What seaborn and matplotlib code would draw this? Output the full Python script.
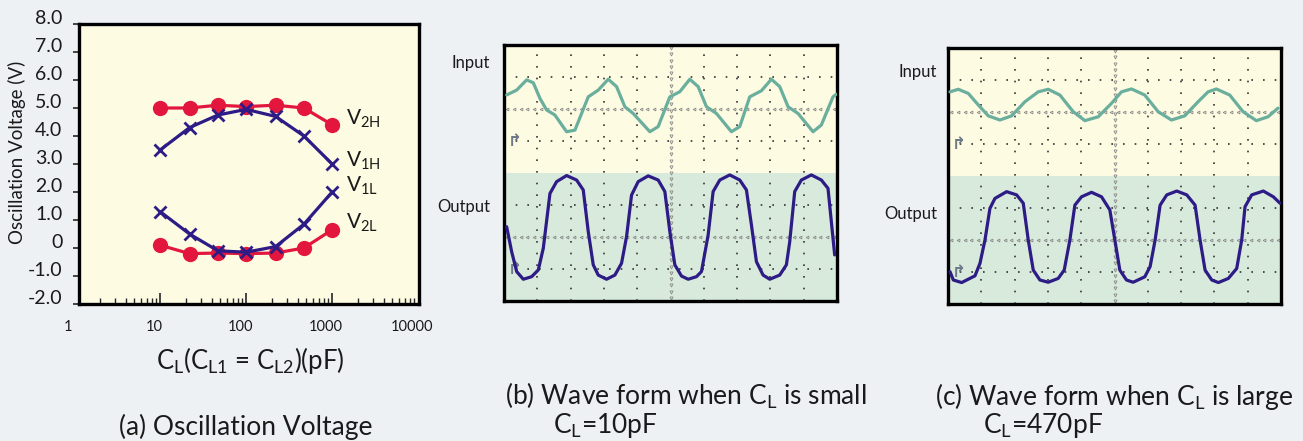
import matplotlib
matplotlib.use("Agg")
import matplotlib.pyplot as plt
import matplotlib.transforms as mtransforms
import numpy as np
import seaborn as sns

# ---- (a) oscillation voltage vs load capacitance ----
cl_pf = [10, 22, 47, 100, 220, 470, 1000]
v2h = [5.0, 5.0, 5.1, 5.05, 5.1, 5.0, 4.4]
v1h = [3.5, 4.3, 4.75, 4.95, 4.7, 4.0, 3.0]
v1l = [1.3, 0.5, -0.1, -0.15, 0.05, 0.85, 2.0]
v2l = [0.1, -0.2, -0.18, -0.2, -0.18, 0.0, 0.65]
y_ticks = [-2, -1, 0, 1, 2, 3, 4, 5, 6, 7, 8]
y_labels = ["-2.0", "-1.0", "0", "1.0", "2.0", "3.0", "4.0", "5.0", "6.0", "7.0", "8.0"]
x_ticks = [1, 10, 100, 1000, 10000]
x_labels = ["1", "10", "100", "1000", "10000"]
series_labels = ["V$_{2H}$", "V$_{1H}$", "V$_{1L}$", "V$_{2L}$"]
series_label_y = [4.6, 3.13, 2.23, 0.89]

# ---- (b) wave form, CL = 10pF (screen divisions) ----
b_in_x = [0.08, 0.38, 0.68, 0.88, 1.08, 1.28, 1.53, 1.88, 2.13, 2.33, 2.53, 2.83, 3.13, 3.38,
          3.63, 3.88, 4.38, 4.63, 4.98, 5.28, 5.58, 5.83, 6.08, 6.38, 6.83, 7.08, 7.38, 7.73,
          8.03, 8.28, 8.53, 8.83, 9.28, 9.53, 9.88, 9.98]
b_in_y = [6.44, 6.59, 6.91, 6.82, 6.33, 5.97, 5.81, 5.29, 5.34, 5.86, 6.38, 6.59, 6.93, 6.70,
          6.07, 5.86, 5.29, 5.45, 6.38, 6.54, 6.93, 6.70, 6.07, 5.86, 5.29, 5.45, 6.38, 6.57,
          6.93, 6.70, 6.07, 5.86, 5.29, 5.50, 6.38, 6.46]
b_out_x = [0.08, 0.23, 0.38, 0.58, 0.83, 1.03, 1.18, 1.38, 1.58, 1.88, 2.18, 2.38, 2.53, 2.68,
           2.83, 3.08, 3.33, 3.53, 3.68, 3.83, 4.03, 4.33, 4.63, 4.83, 4.98, 5.13, 5.33, 5.53,
           5.78, 5.93, 6.13, 6.28, 6.48, 6.78, 7.08, 7.28, 7.43, 7.58, 7.78, 7.98, 8.28, 8.48,
           8.58, 8.73, 8.93, 9.23, 9.53, 9.73, 9.93]
b_out_y = [2.32, 1.54, 0.92, 0.68, 0.76, 0.97, 1.65, 3.36, 3.73, 3.92, 3.78, 3.47, 2.17, 1.13,
           0.81, 0.68, 0.81, 1.18, 2.01, 3.31, 3.73, 3.91, 3.78, 3.42, 2.17, 1.13, 0.78, 0.68,
           0.76, 0.92, 2.06, 3.42, 3.78, 3.94, 3.78, 3.47, 2.38, 1.23, 0.81, 0.68, 0.81, 1.13,
           1.85, 3.42, 3.78, 3.94, 3.78, 3.52, 1.44]

# ---- (c) wave form, CL = 470pF ----
c_in_x = [0.06, 0.31, 0.61, 0.91, 1.21, 1.56, 1.91, 2.31, 2.71, 3.01, 3.36, 3.76, 4.11, 4.51,
          4.91, 5.21, 5.51, 5.91, 6.31, 6.71, 7.11, 7.51, 7.81, 8.06, 8.46, 8.86, 9.26, 9.61, 9.91]
c_in_y = [6.63, 6.71, 6.58, 6.22, 5.88, 5.75, 5.88, 6.32, 6.63, 6.71, 6.53, 6.01, 5.73, 5.85,
          6.27, 6.63, 6.72, 6.53, 6.01, 5.75, 5.88, 6.32, 6.63, 6.72, 6.53, 6.01, 5.73, 5.85, 6.12]
c_out_x = [0.06, 0.16, 0.41, 0.81, 0.96, 1.11, 1.26, 1.41, 1.76, 2.06, 2.26, 2.41, 2.56, 2.76,
           3.01, 3.31, 3.49, 3.66, 3.81, 4.01, 4.31, 4.61, 4.86, 5.01, 5.16, 5.36, 5.56, 5.91,
           6.07, 6.22, 6.37, 6.57, 6.87, 7.17, 7.42, 7.57, 7.72, 7.92, 8.12, 8.42, 8.67, 8.82,
           8.92, 9.12, 9.47, 9.77, 9.97]
c_out_y = [1.01, 0.75, 0.67, 0.88, 1.27, 2.00, 2.99, 3.30, 3.51, 3.41, 3.15, 2.00, 1.06, 0.75,
           0.68, 0.80, 1.06, 2.00, 3.09, 3.35, 3.49, 3.35, 2.94, 2.00, 1.06, 0.75, 0.68, 0.85,
           1.17, 2.00, 3.09, 3.41, 3.53, 3.41, 3.09, 2.00, 1.06, 0.75, 0.67, 0.80, 1.11, 2.00,
           3.04, 3.41, 3.53, 3.35, 3.15]

PAGE = "#edf1f4"
CREAM = "#fdfbe2"
GREEN = "#d8eadc"
RED = "#e3173e"
NAVY = "#2d1b86"
TEAL = "#6aae9d"
INK = "#1a1a1a"

sns.set_style("white")
plt.rcParams["font.family"] = ["Lato", "DejaVu Sans"]
plt.rcParams["mathtext.default"] = "regular"

fig = plt.figure(figsize=(13.03, 4.41), dpi=100, facecolor=PAGE)

# ================= panel (a) =================
ax = fig.add_axes([79 / 1303, 1 - 304 / 441, 340 / 1303, 280 / 441])
ax.set_facecolor(CREAM)
ax.set_xscale("log")
for ys, col, mk in [(v2h, RED, "o"), (v1h, NAVY, "x"), (v1l, NAVY, "x"), (v2l, RED, "o")]:
    if mk == "o":
        sns.lineplot(x=cl_pf, y=ys, ax=ax, color=col, lw=2.3, marker="o", markersize=11,
                     markeredgewidth=0, markerfacecolor=col, markeredgecolor=col, zorder=3)
    else:
        sns.lineplot(x=cl_pf, y=ys, ax=ax, color=col, lw=2.3, marker="x", markersize=9,
                     markeredgewidth=2, markeredgecolor=col, zorder=4)
ax.set_xlim(1.14, 10240)
ax.set_ylim(-2, 8)
ax.set_yticks(y_ticks)
ax.set_yticklabels(y_labels)
ax.tick_params(axis="y", direction="out", length=4, width=1.2, pad=8, labelsize=14,
               labelcolor=INK, left=True)
for lab in ax.get_yticklabels():
    lab.set_verticalalignment("baseline")
ax.set_xticks([10, 100, 1000])
ax.set_xticks([m * d for d in (1, 10, 100, 1000) for m in range(2, 10)], minor=True)
ax.set_xticklabels([])
ax.tick_params(axis="x", which="major", direction="in", length=8, width=1.2, bottom=True)
ax.tick_params(axis="x", which="minor", direction="in", length=4.5, width=1.0, bottom=True)
for sp in ax.spines.values():
    sp.set_linewidth(2.4)
    sp.set_color("black")
xt = mtransforms.offset_copy(ax.get_xaxis_transform(), fig=fig, x=-6, y=-23, units="dots")
for v, lab in zip(x_ticks, x_labels):
    ax.text(v, 0, lab, transform=xt, ha="center", va="center", fontsize=10.5,
            color=INK)
for lab, yy in zip(series_labels, series_label_y):
    ax.text(1455, yy, lab, ha="left", va="center", fontsize=15, color=INK)
ax.set_xlabel("")
ax.set_ylabel("")
fig.text(17 / 1303, 1 - 152 / 441, "Oscillation Voltage (V)", rotation=90, ha="center",
         va="center", fontsize=13.5, color=INK)
fig.text(250 / 1303, 1 - 361 / 441, "C$_L$(C$_{L1}$ = C$_{L2}$)(pF)", ha="center",
         va="center", fontsize=18.5, color=INK)
fig.text(246 / 1303, 1 - 427 / 441, "(a) Oscillation Voltage", ha="center", va="center",
         fontsize=19, color=INK)


# ================= scope panels =================
def scope(rect, in_x, in_y, out_x, out_y, in_lab_y, out_lab_y, lab_x):
    a = fig.add_axes(rect)
    a.set_xlim(0, 10)
    a.set_ylim(0, 8)
    a.axhspan(4, 8, color=CREAM, zorder=0, lw=0)
    a.axhspan(0, 4, color=GREEN, zorder=0, lw=0)
    for gx in [1, 2, 3, 4, 6, 7, 8, 9]:
        a.axvline(gx, color="#333333", lw=1.2, ls=(0, (1, 6)), zorder=1)
    for gy in [1, 3, 5, 7]:
        a.axhline(gy, color="#333333", lw=1.2, ls=(0, (1, 6)), zorder=1)
    a.plot(np.full(41, 5.0), np.linspace(0.1, 7.9, 41), ls="none", marker="v", ms=2.2,
           mfc="none", mec="#8a8a8a", mew=0.6, zorder=1)
    for gy in [2, 6]:
        a.plot(np.linspace(0.1, 9.9, 50), np.full(50, float(gy)), ls="none", marker="<",
               ms=2.0, mfc="none", mec="#8a8a8a", mew=0.6, zorder=1)
    sns.lineplot(x=in_x, y=in_y, ax=a, color=TEAL, lw=2.3, sort=False, estimator=None,
                 zorder=3, solid_joinstyle="round", solid_capstyle="round")
    sns.lineplot(x=out_x, y=out_y, ax=a, color=NAVY, lw=2.3, sort=False, estimator=None,
                 zorder=3, solid_joinstyle="round", solid_capstyle="round")
    for gy in [5, 1]:
        a.text(0.1, gy, "\u21b1", ha="left", va="center", fontsize=12, color="#6f7a88",
               family="DejaVu Sans", fontweight="bold", zorder=2)
    a.text(lab_x, in_lab_y, "Input", ha="right", va="center", fontsize=12, color=INK,
           clip_on=False)
    a.text(lab_x, out_lab_y, "Output", ha="right", va="center", fontsize=12, color=INK,
           clip_on=False)
    a.set_xticks([])
    a.set_yticks([])
    a.set_xlabel("")
    a.set_ylabel("")
    for sp in a.spines.values():
        sp.set_linewidth(2.4)
        sp.set_color("black")
        sp.set_visible(True)
    return a


scope([504 / 1303, 1 - 301 / 441, 333 / 1303, 256 / 441],
      b_in_x, b_in_y, b_out_x, b_out_y, 7.44, 2.94, -0.42)
scope([948 / 1303, 1 - 304 / 441, 333 / 1303, 256 / 441],
      c_in_x, c_in_y, c_out_x, c_out_y, 7.25, 2.81, -0.33)

fig.text(505 / 1303, 1 - 396 / 441, "(b) Wave form when C$_L$ is small", ha="left",
         va="center", fontsize=19, color=INK)
fig.text(553 / 1303, 1 - 425 / 441, "C$_L$=10pF", ha="left", va="center", fontsize=19,
         color=INK)
fig.text(935 / 1303, 1 - 396 / 441, "(c) Wave form when C$_L$ is large", ha="left",
         va="center", fontsize=19, color=INK)
fig.text(983 / 1303, 1 - 425 / 441, "C$_L$=470pF", ha="left", va="center", fontsize=19,
         color=INK)

fig.savefig("out.png", dpi=100, facecolor=PAGE)
